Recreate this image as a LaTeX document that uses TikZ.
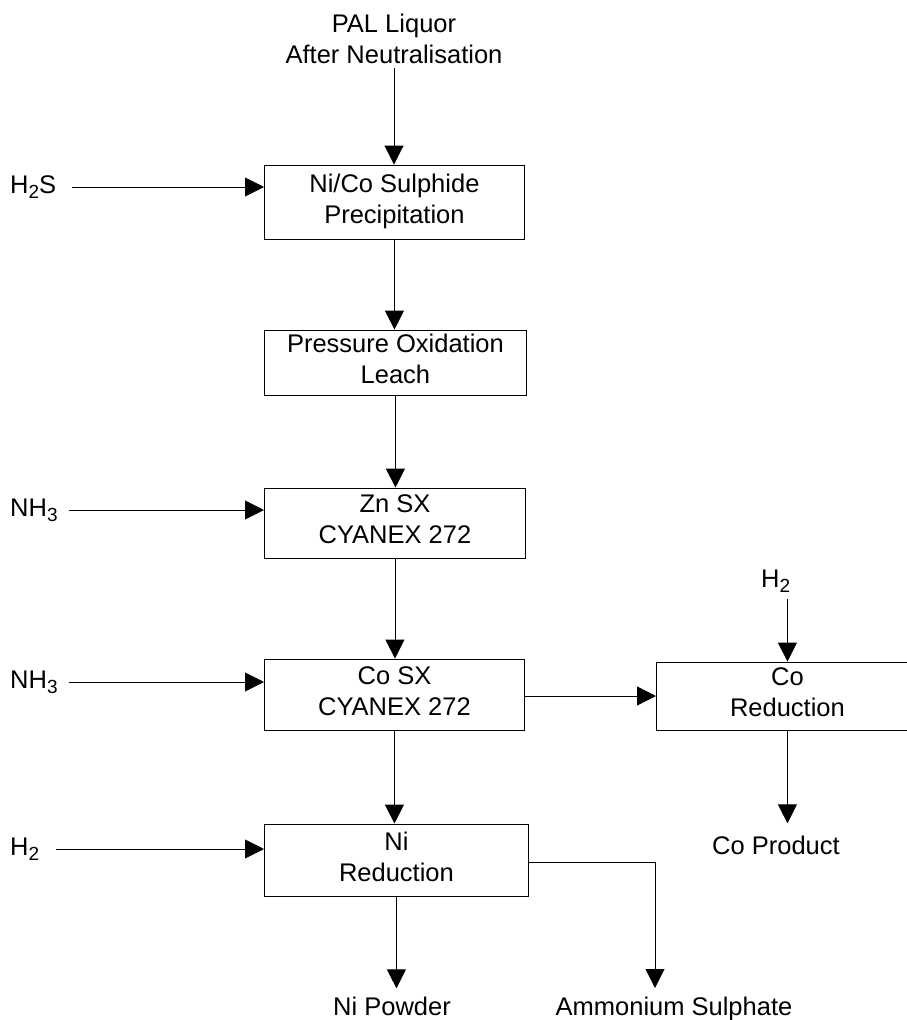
\documentclass[tikz,border=0pt]{standalone}
\usepackage{fontspec}
\setmainfont{Liberation Sans}
\usetikzlibrary{arrows.meta}

\newcommand{\chemsub}[1]{\raisebox{-5pt}{\fontsize{19}{19}\selectfont #1}}

\tikzset{
  unit/.style={draw, line width=0.9pt, inner sep=0pt, align=center, anchor=west,
    execute at end node={\rule[-7pt]{0pt}{7pt}}},
  feed/.style={inner sep=0pt, anchor=west},
  prod/.style={inner sep=0pt, anchor=base},
  flow/.style={line width=0.9pt, -{Triangle[length=19pt,width=19pt]}}
}

\begin{document}
\begin{tikzpicture}[x=1pt, y=-1pt, font=\fontsize{25.5}{31}\selectfont]
    \path[use as bounding box, clip] (0,0) rectangle (907,1020);
    % process units
    \node[unit, minimum width=260pt, minimum height=74pt] (sulph) at (264,202) {Ni/Co Sulphide\\Precipitation};
    \node[unit, minimum width=262pt, minimum height=65pt] (pox) at (264,362.5) {Pressure Oxidation\\Leach};
    \node[unit, minimum width=261pt, minimum height=70pt] (znsx) at (264,523) {Zn SX\\CYANEX 272};
    \node[unit, minimum width=260pt, minimum height=71pt] (cosx) at (264,694.5) {Co SX\\CYANEX 272};
    \node[unit, minimum width=262pt, minimum height=68pt] (cored) at (656,696) {Co\\Reduction};
    \node[unit, minimum width=264pt, minimum height=72pt] (nired) at (264,860) {Ni\\Reduction};
    % feeds and products
    \node[inner sep=0pt, align=center, anchor=south] (pal) at (394,64) {PAL Liquor\\After Neutralisation};
    \node[feed] (hs) at (10,187) {H\chemsub{2}S};
    \node[feed] (nha) at (10,510) {NH\chemsub{3}};
    \node[feed] (nhb) at (10,682) {NH\chemsub{3}};
    \node[feed] (hha) at (10,849) {H\chemsub{2}};
    \node[feed, anchor=base west] (hhb) at (761,587) {H\chemsub{2}};
    \node[prod] (coprod) at (776,854) {Co Product};
    \node[prod] (nipow) at (392,1015) {Ni Powder};
    \node[prod] (ammsul) at (674,1015) {Ammonium Sulphate};
    \coordinate (amm) at (655,988);
    % main flow
    \draw[flow, shorten <=4pt] (pal) -- (pal |- sulph.north);
    \draw[flow] (sulph.south) -- (sulph.south |- pox.north);
    \draw[flow] (pox.south) -- (pox.south |- znsx.north);
    \draw[flow] (znsx.south) -- (znsx.south |- cosx.north);
    \draw[flow] (cosx.south) -- (cosx.south |- nired.north);
    \draw[flow] (cosx.east |- cored.west) -- (cored.west);
    % side streams
    \draw[flow] ([xshift=16pt]hs.east) -- (hs.east -| sulph.west);
    \draw[flow] ([xshift=11pt]nha.east) -- (nha.east -| znsx.west);
    \draw[flow] ([xshift=11pt]nhb.east) -- (nhb.east -| cosx.west);
    \draw[flow] ([xshift=17pt]hha.east) -- (hha.east -| nired.west);
    \draw[flow] ([yshift=-7pt]hhb.south -| cored.north) -- (cored.north);
    \draw[flow] (cored.south) -- ([yshift=12pt]cored.south |- coprod.north);
    \draw[flow] (nired.south) -- ([yshift=8pt]nired.south |- nipow.north);
    \draw[flow] ([yshift=-2pt]nired.east) -| (amm);
\end{tikzpicture}
\end{document}
